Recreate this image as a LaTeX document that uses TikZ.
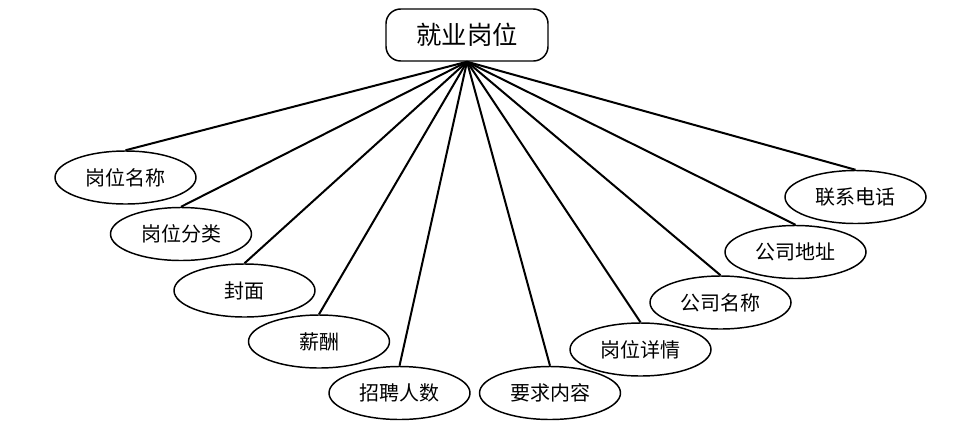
\documentclass[tikz,border=0pt]{standalone}
\usepackage{fontspec}
\setmainfont{Noto Sans CJK SC}
\usetikzlibrary{shapes.geometric}

\begin{document}
\begin{tikzpicture}[x=0.75pt,y=-0.75pt,
    attr/.style={ellipse,draw,line width=1.1pt,minimum width=105.75pt,minimum height=39.75pt,inner sep=0pt,font=\fontsize{15}{15}\selectfont},
    entity/.style={rectangle,rounded corners=11pt,draw,line width=1.1pt,minimum width=121.5pt,minimum height=39pt,font=\fontsize{19}{19}\selectfont}]
\useasboundingbox (0,0) rectangle (956,436);
\node[entity] (job) at (467,35) {就业岗位};

\node[attr] (jobname) at (125.5,177.5) {岗位名称};
\node[attr] (jobtype) at (181,234) {岗位分类};
\node[attr] (cover) at (244.5,290.5) {封面};
\node[attr] (salary) at (319,341.5) {薪酬};
\node[attr] (number) at (399.5,393) {招聘人数};
\node[attr] (require) at (550,393) {要求内容};
\node[attr] (detail) at (640.5,349.5) {岗位详情};
\node[attr] (company) at (720.5,302.5) {公司名称};
\node[attr] (address) at (795.5,252) {公司地址};
\node[attr] (phone) at (855.5,197) {联系电话};

\path[line width=1.5pt] (job.south) edge (jobname.north)
    (job.south) edge (jobtype.north)
    (job.south) edge (cover.north)
    (job.south) edge (salary.north)
    (job.south) edge (number.north)
    (job.south) edge (require.north)
    (job.south) edge (detail.north)
    (job.south) edge (company.north)
    (job.south) edge (address.north)
    (job.south) edge (phone.north);
\end{tikzpicture}
\end{document}
